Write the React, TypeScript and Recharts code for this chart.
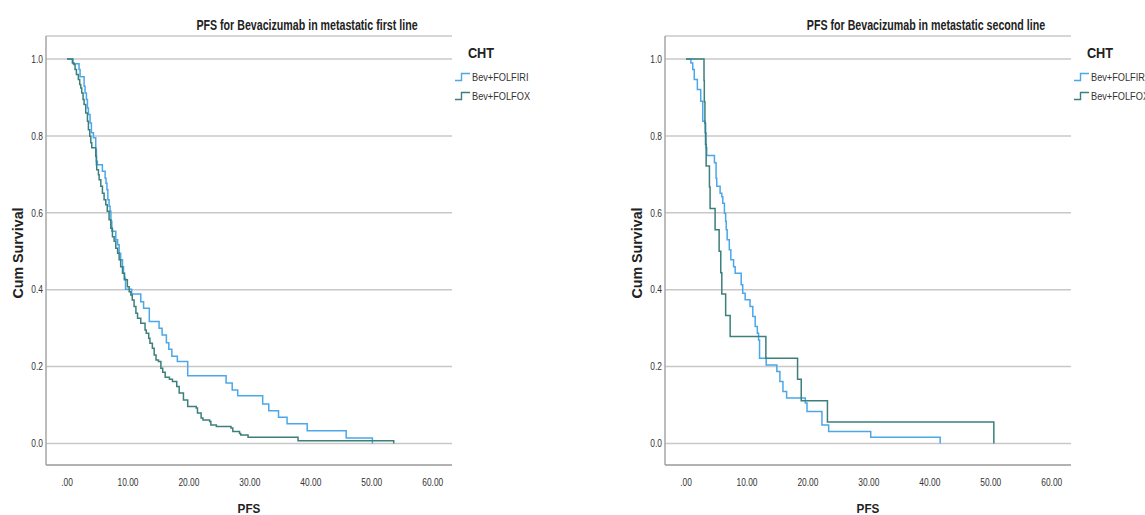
import React from 'react';
import { LineChart, Line, XAxis, YAxis, CartesianGrid } from 'recharts';

const FONT = '"Liberation Sans Narrow", "Arial Narrow", "Liberation Sans", Arial, sans-serif';

const xTicks = [0, 10, 20, 30, 40, 50, 60];
const yTicks = [0, 0.2, 0.4, 0.6, 0.8, 1.0];
const seriesNames = ['Bev+FOLFIRI', 'Bev+FOLFOX'];
const seriesColors = ['#4ba7ea', '#3b807b'];
const legendTitle = 'CHT';
const xLabel = 'PFS';
const yLabel = 'Cum Survival';
const titles = ['PFS for Bevacizumab in metastatic first line', 'PFS for Bevacizumab in metastatic second line'];

// First line, Bev+FOLFIRI
const firstFolfiriTime = [0, 0.99, 1.97, 2.14, 2.8, 2.96, 3.18, 3.35, 3.51, 3.78, 4.0, 4.33, 4.71, 4.82, 4.98, 5.8, 6.25, 6.4, 6.55, 6.7, 6.9, 7.07, 7.2, 7.35, 8.0, 8.3, 8.55, 8.8, 9.1, 9.27, 9.45, 9.6, 10.6, 12.1, 12.56, 13.5, 15.1, 15.6, 16.3, 16.7, 17.2, 18.1, 19.8, 26.1, 27.1, 28.0, 32.1, 33.1, 34.7, 36.1, 39.4, 45.8, 50.1];
const firstFolfiriSurv = [1.0, 0.988, 0.973, 0.954, 0.929, 0.912, 0.895, 0.873, 0.856, 0.834, 0.808, 0.795, 0.764, 0.734, 0.725, 0.708, 0.69, 0.677, 0.66, 0.634, 0.617, 0.604, 0.578, 0.552, 0.53, 0.517, 0.495, 0.478, 0.46, 0.443, 0.43, 0.401, 0.389, 0.369, 0.352, 0.317, 0.3, 0.282, 0.262, 0.245, 0.227, 0.213, 0.176, 0.157, 0.139, 0.124, 0.103, 0.085, 0.068, 0.051, 0.033, 0.014, 0];

// First line, Bev+FOLFOX
const firstFolfoxTime = [0, 0.88, 1.15, 1.32, 1.54, 1.86, 2.08, 2.25, 2.41, 2.63, 2.8, 3.07, 3.35, 3.51, 3.73, 3.9, 4.06, 4.71, 4.82, 4.87, 5.15, 5.27, 5.54, 5.81, 6.08, 6.36, 6.6, 6.9, 7.18, 7.45, 7.73, 8.0, 8.3, 8.55, 8.8, 9.1, 9.4, 9.9, 10.2, 10.47, 10.7, 11.0, 11.3, 11.57, 12.1, 12.8, 13.0, 13.4, 13.6, 14.0, 14.3, 14.6, 15.0, 15.4, 15.7, 16.1, 16.8, 17.3, 18.0, 18.4, 19.1, 19.8, 21.2, 21.4, 22.0, 22.3, 23.4, 23.6, 24.5, 26.9, 27.2, 28.3, 28.5, 29.7, 37.9, 53.6];
const firstFolfoxSurv = [1.0, 0.99, 0.986, 0.973, 0.96, 0.947, 0.934, 0.925, 0.912, 0.895, 0.882, 0.86, 0.838, 0.816, 0.799, 0.782, 0.769, 0.747, 0.725, 0.712, 0.699, 0.686, 0.669, 0.651, 0.634, 0.621, 0.604, 0.582, 0.56, 0.538, 0.526, 0.508, 0.495, 0.478, 0.46, 0.443, 0.426, 0.408, 0.395, 0.386, 0.373, 0.356, 0.339, 0.326, 0.313, 0.295, 0.287, 0.274, 0.261, 0.248, 0.23, 0.217, 0.213, 0.196, 0.185, 0.172, 0.167, 0.161, 0.148, 0.131, 0.113, 0.096, 0.092, 0.079, 0.066, 0.061, 0.057, 0.048, 0.044, 0.04, 0.031, 0.026, 0.022, 0.016, 0.007, 0];

// Second line, Bev+FOLFIRI
const secondFolfiriTime = [0, 0.8, 1.1, 1.35, 1.86, 2.41, 2.74, 3.13, 3.29, 3.4, 4.66, 4.93, 5.04, 5.59, 5.87, 6.03, 6.3, 6.5, 6.6, 6.75, 7.1, 7.35, 7.8, 8.06, 9.05, 9.3, 9.7, 10.5, 10.96, 11.35, 11.7, 11.9, 12.06, 13.15, 14.9, 15.4, 15.9, 16.5, 19.57, 19.85, 22.3, 23.4, 30.3, 41.7];
const secondFolfiriSurv = [1.0, 0.99, 0.973, 0.947, 0.921, 0.89, 0.838, 0.808, 0.769, 0.749, 0.73, 0.69, 0.669, 0.651, 0.642, 0.625, 0.599, 0.578, 0.556, 0.53, 0.504, 0.478, 0.46, 0.443, 0.413, 0.391, 0.374, 0.356, 0.33, 0.304, 0.287, 0.269, 0.222, 0.204, 0.187, 0.161, 0.135, 0.118, 0.105, 0.083, 0.048, 0.031, 0.016, 0];

// Second line, Bev+FOLFOX
const secondFolfoxTime = [0, 2.95, 3.0, 3.1, 3.2, 3.3, 3.84, 3.95, 4.77, 5.43, 5.7, 5.87, 6.5, 7.24, 13.1, 18.3, 18.9, 23.2, 50.5];
const secondFolfoxSurv = [1.0, 0.944, 0.889, 0.833, 0.778, 0.722, 0.667, 0.611, 0.556, 0.5, 0.444, 0.389, 0.333, 0.278, 0.222, 0.167, 0.111, 0.056, 0];

const toRows = (time: number[], surv: number[]) => time.map((t, i) => ({ t, s: surv[i] }));

const PLOT_LEFT = 46;
const PLOT_WIDTH = 406;
const CHART_W = 460;
const CHART_H = 515;
const NARROW = 0.8;

const fmtX = (v: number) => (v === 0 ? '.00' : v.toFixed(2));
const fmtY = (v: number) => v.toFixed(1);

function XTick(props: any) {
  const { x, y, payload } = props;
  return (
    <text x={x} y={y} dy="0.71em" textAnchor="middle" fontSize={10.5} fill="#333" fontFamily={FONT}
      transform={`translate(${x},0) scale(${NARROW},1) translate(${-x},0)`}>
      {fmtX(payload.value)}
    </text>
  );
}

function YTick(props: any) {
  const { x, y, payload } = props;
  return (
    <text x={x} y={y} dy="0.355em" textAnchor="end" fontSize={10.5} fill="#333" fontFamily={FONT}
      transform={`translate(${x},0) scale(${NARROW},1) translate(${-x},0)`}>
      {fmtY(payload.value)}
    </text>
  );
}

function LegendIcon({ color }: { color: string }) {
  return (
    <svg width={16} height={10} style={{ display: 'block', flex: 'none' }}>
      <path d="M0 8.5 H6.5 V1.5 H15" fill="none" stroke={color} strokeWidth={1.4} />
    </svg>
  );
}

function Panel({ left, title, series }: { left: number; title: string; series: { t: number; s: number }[][] }) {
  const plotRight = left + PLOT_LEFT + PLOT_WIDTH;
  const plotCenter = left + PLOT_LEFT + PLOT_WIDTH / 2;
  return (
    <>
      <div style={{ position: 'absolute', left, top: 0 }}>
        <LineChart width={CHART_W} height={CHART_H} margin={{ top: 36, right: CHART_W - PLOT_LEFT - PLOT_WIDTH, bottom: 20, left: 16 }}>
          <CartesianGrid horizontal vertical={false} stroke="#c8c8c8" strokeWidth={1.5} />
          <XAxis
            dataKey="t"
            type="number"
            domain={[-3.45, 63.16]}
            allowDataOverflow
            ticks={xTicks}
            axisLine={{ stroke: '#a6a6a6', strokeWidth: 1.5 }}
            tickLine={false}
            tickSize={0}
            tickMargin={14}
            height={30}
            tick={<XTick />}
          />
          <YAxis
            type="number"
            domain={[-0.056, 1.06]}
            allowDataOverflow
            ticks={yTicks}
            axisLine={{ stroke: '#a6a6a6', strokeWidth: 1.5 }}
            tickLine={false}
            tickSize={0}
            tickMargin={3}
            width={30}
            tick={<YTick />}
          />
          {series.map((d, i) => (
            <Line
              key={seriesNames[i]}
              data={d}
              dataKey="s"
              name={seriesNames[i]}
              type="stepAfter"
              stroke={seriesColors[i]}
              strokeWidth={1.5}
              dot={false}
              activeDot={false}
              isAnimationActive={false}
            />
          ))}
        </LineChart>
      </div>
      <div style={{ position: 'absolute', left: plotCenter + 58, top: 25, transform: 'translate(-50%,-50%) scaleX(0.76)', whiteSpace: 'nowrap', fontFamily: FONT, fontSize: 14, fontWeight: 'bold', color: '#222' }}>
        {title}
      </div>
      <div style={{ position: 'absolute', left: left + 18, top: 253, transform: 'translate(-50%,-50%) rotate(-90deg) scaleX(0.92)', whiteSpace: 'nowrap', fontFamily: FONT, fontSize: 15.5, fontWeight: 'bold', color: '#222' }}>
        {yLabel}
      </div>
      <div style={{ position: 'absolute', left: plotCenter, top: 508, transform: 'translate(-50%,-50%) scaleX(0.9)', whiteSpace: 'nowrap', fontFamily: FONT, fontSize: 13, fontWeight: 'bold', color: '#222' }}>
        {xLabel}
      </div>
      <div style={{ position: 'absolute', left: plotRight + 29, top: 52, transform: 'translate(-50%,-50%) scaleX(0.85)', whiteSpace: 'nowrap', fontFamily: FONT, fontSize: 15, fontWeight: 'bold', color: '#222' }}>
        {legendTitle}
      </div>
      {seriesNames.map((n, i) => (
        <div key={n} style={{ position: 'absolute', left: plotRight + 3, top: 71 + i * 19, display: 'flex', alignItems: 'center', whiteSpace: 'nowrap', fontFamily: FONT, fontSize: 11.5, color: '#333' }}>
          <LegendIcon color={seriesColors[i]} />
          <span style={{ marginLeft: 1, display: 'inline-block', transform: 'scaleX(0.8)', transformOrigin: 'left center' }}>{n}</span>
        </div>
      ))}
    </>
  );
}

export default function App() {
  return (
    <div style={{ position: 'absolute', left: 0, top: 0, width: 1145, height: 515, overflow: 'hidden', background: '#fff' }}>
      <Panel left={0} title={titles[0]} series={[toRows(firstFolfiriTime, firstFolfiriSurv), toRows(firstFolfoxTime, firstFolfoxSurv)]} />
      <Panel left={619} title={titles[1]} series={[toRows(secondFolfiriTime, secondFolfiriSurv), toRows(secondFolfoxTime, secondFolfoxSurv)]} />
    </div>
  );
}
